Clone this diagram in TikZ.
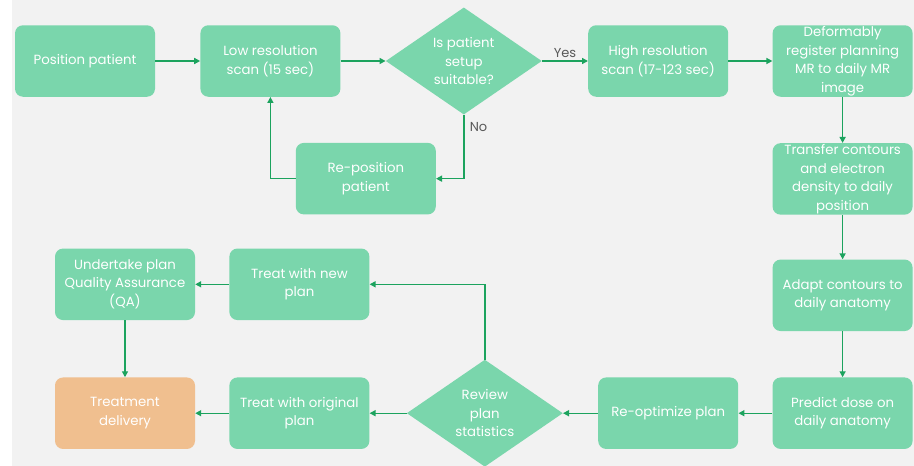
\documentclass[tikz,border=0pt]{standalone}
\usepackage{fontspec}
\setmainfont{Poppins}
\usetikzlibrary{arrows.meta, positioning, shapes.geometric, calc}
\definecolor{boxgreen}{RGB}{122,214,172}
\definecolor{linegreen}{RGB}{28,163,94}
\definecolor{boxorange}{RGB}{240,191,143}
\definecolor{bggrey}{RGB}{242,242,242}
\tikzset{%
	stepbox/.style={rectangle, rounded corners=8pt, minimum width=140pt, minimum height=71.5pt,%
		inner sep=1pt, fill=boxgreen, text=white, align=center,%
		font=\fontsize{13.3}{18.5}\selectfont},
	endbox/.style={stepbox, fill=boxorange},
	check/.style={diamond, aspect=1.46, minimum width=156pt, minimum height=107pt, inner sep=0pt,%
		fill=boxgreen, text=white, align=center, font=\fontsize{13.3}{18.5}\selectfont},
	flow/.style={-{Triangle[length=6pt,width=6pt]}, line width=1.4pt, draw=linegreen},
	answer/.style={text=black!65, font=\fontsize{13}{15}\selectfont}
}

\begin{document}
\begin{tikzpicture}
	\useasboundingbox (0,0) rectangle (914pt,-466pt);
	\fill[white] (0,0) rectangle (12pt,-466pt);
	\fill[bggrey] (12pt,0) rectangle (914pt,-466pt);

	\node[stepbox] (pos) at (85pt,-61pt) {Position patient};
	\node[stepbox, right=45pt of pos] (low) {Low resolution\\scan (15 sec)};
	\node[check, right=45pt of low] (suit) {Is patient\\setup\\suitable?};
	\node[stepbox, right=46pt of suit] (high) {High resolution\\scan (17-123 sec)};
	\node[stepbox, right=44pt of high] (deform) {Deformably\\register planning\\MR to daily MR\\image};
	\node[stepbox, below=46pt of deform] (transfer) {Transfer contours\\and electron\\density to daily\\position};
	\node[stepbox, below=44.5pt of transfer] (adapt) {Adapt contours to\\daily anatomy};
	\node[stepbox, below=46pt of adapt] (predict) {Predict dose on\\daily anatomy};
	\node[stepbox, left=34pt of predict] (reopt) {Re-optimize plan};
	\node[check, left=35pt of reopt] (review) {Review\\plan\\statistics};
	\node[stepbox, left=37pt of review] (orig) {Treat with original\\plan};
	\node[endbox, left=34pt of orig] (deliv) {Treatment\\delivery};
	\node[stepbox, above=57pt of orig] (newplan) {Treat with new\\plan};
	\node[stepbox, above=57pt of deliv] (qa) {Undertake plan\\Quality Assurance\\(QA)};
	\node[stepbox, below=28pt of suit, xshift=-98pt] (repos) {Re-position\\patient};

	\draw[flow] (pos) -- (low);
	\draw[flow] (low) -- (suit);
	\draw[flow] (suit) -- node[answer, above=-1pt] {Yes} (high);
	\draw[flow] (high) -- (deform);
	\draw[flow] (deform) -- (transfer);
	\draw[flow] (transfer) -- (adapt);
	\draw[flow] (adapt) -- (predict);
	\draw[flow] (predict) -- (reopt);
	\draw[flow] (reopt) -- (review);
	\draw[flow] (review) -- (orig);
	\draw[flow] (orig) -- (deliv);
	\draw[flow] (review.north) |- (newplan);
	\draw[flow] (newplan) -- (qa);
	\draw[flow] (qa) -- (deliv);
	\draw[flow] (suit.south) |- node[answer, pos=0.1, right=2pt] {No} (repos);
	\draw[flow] (repos) -| (low);
\end{tikzpicture}
\end{document}
